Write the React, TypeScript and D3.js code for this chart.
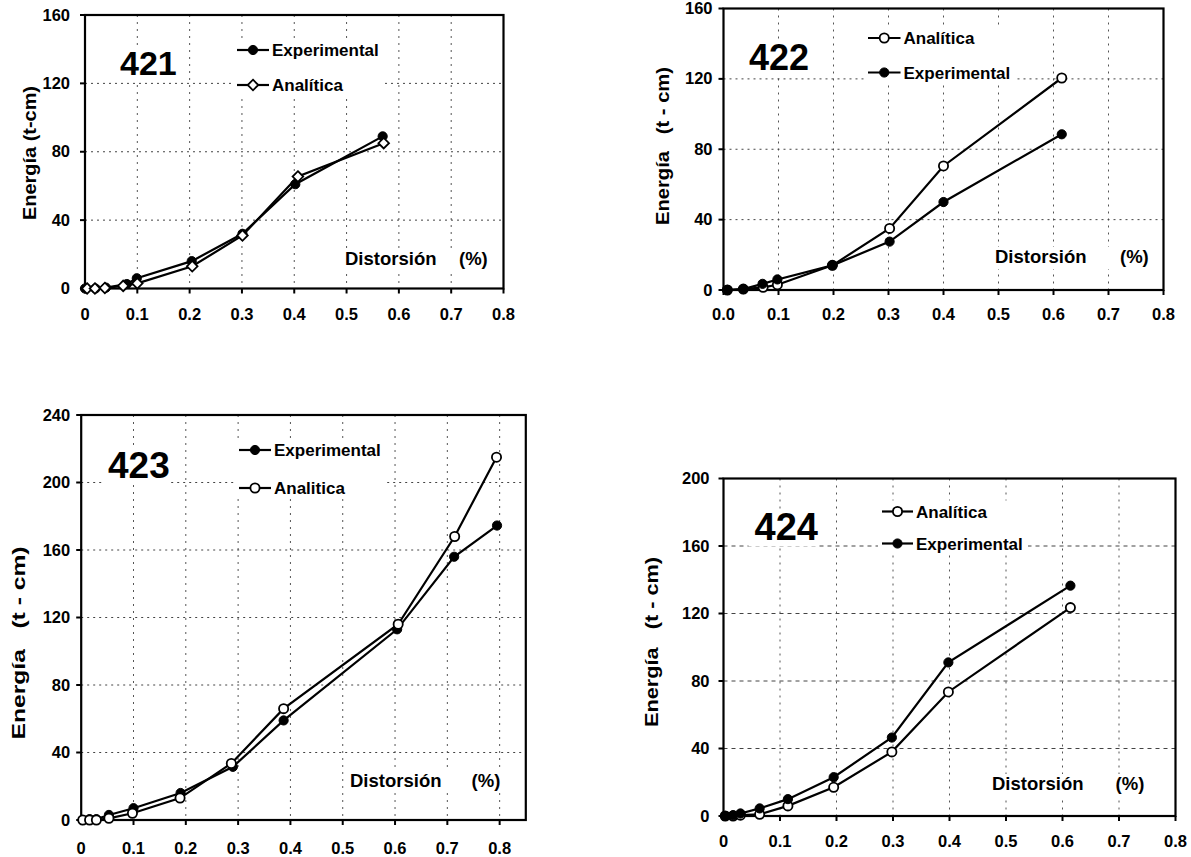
import React from "react";
import * as d3 from "d3";

// ---------- DATA ----------
const xTickValues = [0, 0.1, 0.2, 0.3, 0.4, 0.5, 0.6, 0.7, 0.8];
const yTicks160 = [0, 40, 80, 120, 160];
const yTicks240 = [0, 40, 80, 120, 160, 200, 240];
const yTicks200 = [0, 40, 80, 120, 160, 200];

// Probeta 421
const p421ExpX = [0, 0.02, 0.04, 0.08, 0.099, 0.204, 0.301, 0.402, 0.569];
const p421ExpY = [0, 0, 0.5, 2.6, 6, 16, 32, 61, 89];
const p421AnaX = [0.004, 0.019, 0.038, 0.073, 0.1, 0.205, 0.301, 0.407, 0.571];
const p421AnaY = [0, 0, 0.3, 1.5, 3, 13, 31, 65.5, 85];

// Probeta 422
const p422AnaX = [0.007, 0.036, 0.072, 0.098, 0.198, 0.302, 0.4, 0.615];
const p422AnaY = [0, 0.5, 1.5, 3, 14, 35, 70.5, 120.5];
const p422ExpX = [0.007, 0.036, 0.071, 0.098, 0.198, 0.302, 0.4, 0.615];
const p422ExpY = [0, 0.5, 3.5, 6, 14, 27.5, 50, 88.5];

// Probeta 423
const p423ExpX = [0.003, 0.016, 0.029, 0.053, 0.1, 0.19, 0.29, 0.387, 0.604, 0.713, 0.795];
const p423ExpY = [0, 0.5, 0.5, 3, 7, 16, 31.5, 59, 113, 156, 174.5];
const p423AnaX = [0.003, 0.016, 0.029, 0.053, 0.098, 0.189, 0.287, 0.387, 0.606, 0.714, 0.794];
const p423AnaY = [0, 0, 0, 1, 4, 13, 33.5, 66, 116, 168, 215];

// Probeta 424
const p424ExpX = [0.003, 0.017, 0.03, 0.064, 0.114, 0.195, 0.298, 0.398, 0.614];
const p424ExpY = [0, 0.5, 1.5, 4.5, 10, 23, 46.5, 91, 136.5];
const p424AnaX = [0.003, 0.017, 0.03, 0.064, 0.114, 0.195, 0.298, 0.398, 0.614];
const p424AnaY = [0, 0, 0.5, 1, 6, 17, 38, 73.5, 123.5];

const FONT = "'Liberation Sans', Arial, Helvetica, sans-serif";

type Series = { name: string; xs: number[]; ys: number[]; filled: boolean; diamond?: boolean };
type LegendItem = { name: string; filled: boolean; diamond?: boolean; y: number };

type PanelCfg = {
  title: string;
  titleX: number;
  titleY: number;
  titleSize: number;
  left: number;
  right: number;
  top: number;
  bottom: number;
  xMax: number;
  yMax: number;
  yTicks: number[];
  xFmt: (v: number) => string;
  yLabel: string;
  yLabelX: number;
  yLabelY: number;
  yLabelLen: number;
  yTickGap: number;
  xLabelBase: number;
  series: Series[];
  legendX: number;
  legendTextX: number;
  legend: LegendItem[];
  distX: number;
  pctX: number;
  distY: number;
  hDash: string;
};

const fmt0 = (v: number) => (v === 0 ? "0" : d3.format(".1f")(v));
const fmt00 = (v: number) => d3.format(".1f")(v);

const panels: PanelCfg[] = [
  {
    title: "421", titleX: 120, titleY: 75, titleSize: 34,
    left: 85, right: 503.5, top: 15, bottom: 288.5, xMax: 0.8, yMax: 160,
    yTicks: yTicks160, xFmt: fmt0,
    yLabel: "Energía (t-cm)", yLabelX: 29, yLabelY: 153, yLabelLen: 134,
    yTickGap: 15, xLabelBase: 320,
    series: [
      { name: "Experimental", xs: p421ExpX, ys: p421ExpY, filled: true },
      { name: "Analítica", xs: p421AnaX, ys: p421AnaY, filled: false, diamond: true },
    ],
    legendX: 237, legendTextX: 272,
    legend: [
      { name: "Experimental", filled: true, y: 50 },
      { name: "Analítica", filled: false, diamond: true, y: 85 },
    ],
    distX: 345, pctX: 459, distY: 265, hDash: "2,4",
  },
  {
    title: "422", titleX: 749, titleY: 70, titleSize: 36,
    left: 723.5, right: 1163.5, top: 8.5, bottom: 290, xMax: 0.8, yMax: 160,
    yTicks: yTicks160, xFmt: fmt00,
    yLabel: "Energía   (t - cm)", yLabelX: 662, yLabelY: 146, yLabelLen: 158,
    yTickGap: 11, xLabelBase: 320,
    series: [
      { name: "Analítica", xs: p422AnaX, ys: p422AnaY, filled: false },
      { name: "Experimental", xs: p422ExpX, ys: p422ExpY, filled: true },
    ],
    legendX: 868, legendTextX: 903.5,
    legend: [
      { name: "Analítica", filled: false, y: 38 },
      { name: "Experimental", filled: true, y: 72.5 },
    ],
    distX: 995, pctX: 1120, distY: 263, hDash: "2,4",
  },
  {
    title: "423", titleX: 108, titleY: 478, titleSize: 37,
    left: 81.2, right: 525.8, top: 415, bottom: 820, xMax: 0.85, yMax: 240,
    yTicks: yTicks240, xFmt: fmt0,
    yLabel: "Energía   (t - cm)", yLabelX: 18.5, yLabelY: 643, yLabelLen: 193,
    yTickGap: 11, xLabelBase: 854,
    series: [
      { name: "Experimental", xs: p423ExpX, ys: p423ExpY, filled: true },
      { name: "Analitica", xs: p423AnaX, ys: p423AnaY, filled: false },
    ],
    legendX: 239, legendTextX: 274,
    legend: [
      { name: "Experimental", filled: true, y: 450 },
      { name: "Analitica", filled: false, y: 488 },
    ],
    distX: 350, pctX: 471.6, distY: 787, hDash: "2,4",
  },
  {
    title: "424", titleX: 754.5, titleY: 540, titleSize: 38,
    left: 723.5, right: 1175.5, top: 478.5, bottom: 816, xMax: 0.8, yMax: 200,
    yTicks: yTicks200, xFmt: fmt0,
    yLabel: "Energía   (t - cm)", yLabelX: 651, yLabelY: 642, yLabelLen: 170,
    yTickGap: 14, xLabelBase: 847,
    series: [
      { name: "Analítica", xs: p424AnaX, ys: p424AnaY, filled: false },
      { name: "Experimental", xs: p424ExpX, ys: p424ExpY, filled: true },
    ],
    legendX: 882, legendTextX: 916,
    legend: [
      { name: "Analítica", filled: false, y: 511.5 },
      { name: "Experimental", filled: true, y: 543.5 },
    ],
    distX: 992, pctX: 1115.6, distY: 790, hDash: "4,4",
  },
];

function Marker({ cx, cy, filled, diamond }: { cx: number; cy: number; filled: boolean; diamond?: boolean }) {
  if (diamond) {
    const r = 5.3;
    return (
      <path
        d={`M${cx},${cy - r}L${cx + r},${cy}L${cx},${cy + r}L${cx - r},${cy}Z`}
        fill="#fff"
        stroke="#000"
        strokeWidth={1.8}
      />
    );
  }
  return filled ? (
    <circle cx={cx} cy={cy} r={4.6} fill="#000" stroke="#000" strokeWidth={1} />
  ) : (
    <circle cx={cx} cy={cy} r={4.6} fill="#fff" stroke="#000" strokeWidth={1.8} />
  );
}

function Panel({ p }: { p: PanelCfg }) {
  const x = d3.scaleLinear().domain([0, p.xMax]).range([p.left, p.right]);
  const y = d3.scaleLinear().domain([0, p.yMax]).range([p.bottom, p.top]);
  const line = d3
    .line<[number, number]>()
    .x((d) => x(d[0]))
    .y((d) => y(d[1]));

  const legendW = 200;
  return (
    <g>
      {/* grid */}
      {xTickValues
        .filter((v) => x(v) > p.left + 1 && x(v) < p.right - 1)
        .map((v) => (
          <line key={"gx" + v} x1={x(v)} x2={x(v)} y1={p.top} y2={p.bottom}
            stroke="#555" strokeWidth={1} strokeDasharray="2,5" />
        ))}
      {p.yTicks
        .filter((v) => v > 0 && v < p.yMax)
        .map((v) => (
          <line key={"gy" + v} x1={p.left} x2={p.right} y1={y(v)} y2={y(v)}
            stroke="#444" strokeWidth={1} strokeDasharray={p.hDash} />
        ))}
      {/* white boxes behind title / legend / x-title */}
      <rect x={p.titleX - 6} y={p.titleY - p.titleSize * 0.78} width={p.titleSize * 1.8} height={p.titleSize * 0.95} fill="#fff" />
      <rect x={p.legendX - 4} y={p.legend[0].y - 11} width={legendW * 0.75} height={p.legend[1].y - p.legend[0].y + 22} fill="#fff" />
      <rect x={p.distX - 4} y={p.distY - 16} width={(p.pctX - p.distX) + 40} height={22} fill="#fff" />
      {/* frame */}
      <rect x={p.left} y={p.top} width={p.right - p.left} height={p.bottom - p.top}
        fill="none" stroke="#000" strokeWidth={2.2} />
      {/* ticks */}
      {xTickValues.map((v) => (
        <g key={"tx" + v}>
          <line x1={x(v)} x2={x(v)} y1={p.bottom} y2={p.bottom + 5} stroke="#000" strokeWidth={2} />
          <text x={x(v)} y={p.xLabelBase} textAnchor="middle" fontFamily={FONT} fontWeight="bold" fontSize={16.5}>
            {p.xFmt(v)}
          </text>
        </g>
      ))}
      {p.yTicks.map((v) => (
        <g key={"ty" + v}>
          <line x1={p.left - 5} x2={p.left} y1={y(v)} y2={y(v)} stroke="#000" strokeWidth={2} />
          <text x={p.left - p.yTickGap} y={y(v) + 5.5} textAnchor="end" fontFamily={FONT} fontWeight="bold" fontSize={16.5}>
            {v}
          </text>
        </g>
      ))}
      {/* y label */}
      <text
        transform={`translate(${p.yLabelX},${p.yLabelY}) rotate(-90)`}
        textAnchor="middle"
        dominantBaseline="central"
        fontFamily={FONT}
        fontWeight="bold"
        fontSize={19}
        textLength={p.yLabelLen}
        lengthAdjust="spacingAndGlyphs"
        style={{ whiteSpace: "pre" }}
      >
        {p.yLabel}
      </text>
      {/* x title */}
      <text x={p.distX} y={p.distY} fontFamily={FONT} fontWeight="bold" fontSize={18.5}>Distorsión</text>
      <text x={p.pctX} y={p.distY} fontFamily={FONT} fontWeight="bold" fontSize={18.5}>(%)</text>
      {/* panel number */}
      <text x={p.titleX} y={p.titleY} fontFamily={FONT} fontWeight="bold" fontSize={p.titleSize}>{p.title}</text>
      {/* legend */}
      {p.legend.map((l) => (
        <g key={"lg" + l.name}>
          <line x1={p.legendX} x2={p.legendTextX - 3} y1={l.y} y2={l.y} stroke="#000" strokeWidth={2.2} />
          <Marker cx={(p.legendX + p.legendTextX - 3) / 2} cy={l.y} filled={l.filled} diamond={l.diamond} />
          <text x={p.legendTextX} y={l.y + 6} fontFamily={FONT} fontWeight="bold" fontSize={17}>{l.name}</text>
        </g>
      ))}
      {/* series */}
      {p.series.map((s) => {
        const pts = s.xs.map((xv, i) => [xv, s.ys[i]] as [number, number]);
        return (
          <g key={"s" + s.name}>
            <path d={line(pts) || ""} fill="none" stroke="#000" strokeWidth={2.2} />
            {pts.map((d, i) => (
              <Marker key={i} cx={x(d[0])} cy={y(d[1])} filled={s.filled} diamond={s.diamond} />
            ))}
          </g>
        );
      })}
    </g>
  );
}

export default function App() {
  return (
    <svg
      width={1191}
      height={857}
      style={{ position: "absolute", left: 0, top: 0, background: "#fff" }}
    >
      <rect x={0} y={0} width={1191} height={857} fill="#fff" />
      {panels.map((p) => (
        <Panel key={p.title} p={p} />
      ))}
    </svg>
  );
}
